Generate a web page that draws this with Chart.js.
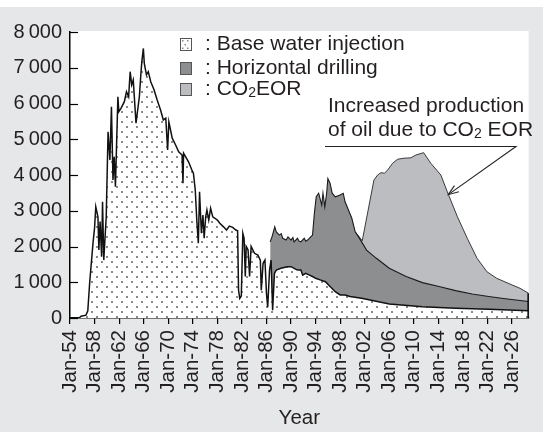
<!DOCTYPE html>
<html>
<head>
<meta charset="utf-8">
<script src="https://cdn.jsdelivr.net/npm/chart.js@4.4.0/dist/chart.umd.min.js"></script>
<style>
  html, body { margin: 0; padding: 0; background: #e6e7e8; }
  #wrap { width: 543px; height: 432px; }
</style>
</head>
<body>
<div id="wrap"><canvas id="chart" width="543" height="432"></canvas></div>
<script>
// base water injection (top of dotted area)
const baseYears = [1954, 1955.5, 1955.8, 1956.6, 1956.9, 1957.2, 1957.75, 1958.0, 1958.2, 1958.55, 1958.7, 1958.9, 1959.15, 1959.3, 1959.5, 1959.9,
  1960.2, 1960.5, 1960.75, 1961.0, 1961.2, 1961.4, 1961.8, 1961.95, 1962.3, 1962.85, 1963.2, 1963.55, 1963.8, 1964.05, 1964.3, 1964.75, 1964.95,
  1965.3, 1965.55, 1965.7, 1965.95, 1966.1, 1966.45, 1966.75, 1967.15, 1967.7, 1968.2, 1968.75, 1969.2, 1969.6, 1969.9, 1970.1, 1970.65,
  1971.2, 1971.7, 1972.25, 1972.4, 1972.5, 1973.3, 1973.85, 1974.1, 1974.4, 1974.65, 1974.9, 1975.1, 1975.4, 1975.65, 1975.85, 1976.1,
  1976.3, 1976.6, 1976.9, 1977.25, 1977.6, 1978.0, 1978.4, 1979.0, 1979.5, 1979.95, 1980.5, 1981.0, 1981.3, 1981.45, 1981.65, 1981.9,
  1982.15, 1982.35, 1982.55, 1982.7, 1983.0, 1983.25, 1983.5, 1984.05, 1984.6, 1985.0, 1985.15, 1985.45, 1985.75, 1986.0, 1986.2, 1986.5,
  1986.75, 1987.0, 1987.3, 1987.6, 1988.35, 1989.4, 1990.0, 1990.5, 1991.05, 1991.6, 1991.9, 1992.4, 1993.0, 1993.5, 1994.0, 1994.85,
  1995.6, 1996.4, 1997.2, 1998.0, 1998.8, 1999.6, 2001.5, 2006, 2011.4, 2016.8, 2022.2, 2028.7];
const baseValues = [0, 0, 50, 80, 200, 980, 2100, 2520, 3110, 2830, 1900, 2700, 1715, 3250, 1620, 2830,
  5210, 4420, 5910, 3860, 4510, 3670, 6190, 5770, 5865, 6050, 6330, 6190, 6890, 6520, 6660, 5450, 5720,
  6190, 6840, 7170, 7540, 7120, 6800, 6890, 6610, 6380, 6100, 5820, 5540, 5590, 4700, 5490, 5030,
  4840, 4650, 4560, 3770, 4610, 4370, 4140, 4050, 3580, 2740, 2090, 3530, 2370, 2880, 2230, 2830,
  3020, 2740, 3070, 2830, 2790, 2740, 2650, 2550, 2460, 2570, 2535, 2460, 2440, 780, 550, 615,
  2370, 2230, 1160, 2000, 1900, 1160, 2000, 1810, 1760, 1620, 780, 1530, 1620, 690, 300, 1340,
  1620, 220, 1250, 1340, 1390, 1435, 1435, 1390, 1340, 1340, 1200, 1250, 1200, 1160, 1110, 1060,
  1015, 875, 735, 645, 645, 600, 550, 390, 315, 270, 245, 205];

// horizontal drilling (top of dark area, cumulative)
const horizYears = [1986.6, 1986.9, 1987.35, 1987.6, 1988.1, 1988.4, 1988.65, 1989.2, 1989.5, 1990.0, 1990.3, 1990.5, 1991.05, 1991.3,
  1991.6, 1992.15, 1992.4, 1992.7, 1993.2, 1993.5, 1993.8, 1994.1, 1994.5, 1995.0, 1995.2, 1995.5, 1995.8, 1996.0, 1996.35, 1996.7,
  1997.2, 1998.0, 1998.5, 1998.8, 1999.35, 1999.9, 2000.45, 2001.0, 2002.3, 2003.9, 2006, 2008.75, 2011.4, 2014.1, 2016.8, 2019.5,
  2022.2, 2024.9, 2028.7];
const horizValues = [2130, 2270, 2550, 2410, 2320, 2360, 2230, 2180, 2270, 2180, 2250, 2130, 2230, 2150,
  2130, 2230, 2150, 2180, 2270, 2320, 2930, 3390, 3490, 3160, 3490, 3110, 3490, 3900, 3770, 3490,
  3390, 3440, 3490, 3250, 3020, 2790, 2410, 2270, 1900, 1670, 1390, 1160, 990, 880, 765, 670,
  600, 540, 460];

// CO2 EOR (top of light area, cumulative)
const co2Years = [2000.45, 2001.6, 2003.5, 2004.1, 2004.65, 2005.2, 2005.75, 2006.55, 2007.35, 2008.4, 2009.5, 2010.35, 2011.6,
  2012.75, 2014.4, 2015.45, 2017.1, 2018.7, 2020.3, 2021.9, 2023.5, 2025.65, 2027.3, 2028.7];
const co2Values = [2410, 2160, 3860, 4000, 4065, 4050, 4140, 4330, 4440, 4470, 4480, 4560, 4625,
  4330, 4000, 3530, 2830, 2230, 1670, 1295, 1110, 950, 830, 690];

const xTickYears = [1954, 1958, 1962, 1966, 1970, 1974, 1978, 1982, 1986, 1990, 1994, 1998, 2002, 2006, 2010, 2014, 2018, 2022, 2026];
const xTickLabels = ['Jan-54', 'Jan-58', 'Jan-62', 'Jan-66', 'Jan-70', 'Jan-74', 'Jan-78', 'Jan-82', 'Jan-86', 'Jan-90',
  'Jan-94', 'Jan-98', 'Jan-02', 'Jan-06', 'Jan-10', 'Jan-14', 'Jan-18', 'Jan-22', 'Jan-26'];
const yTickLabels = ['0', '1\u2009000', '2\u2009000', '3\u2009000', '4\u2009000', '5\u2009000', '6\u2009000', '7\u2009000', '8\u2009000'];

const FONT = "'Liberation Sans', Arial, sans-serif";
const TXT = '#231f20';
const DARK = '#8d8e90';
const LIGHT = '#bcbdc0';

function pts(xs, ys) {
  return xs.map((x, i) => ({ x: x, y: ys[i] }));
}

function dotPattern() {
  const c = document.createElement('canvas');
  c.width = 10; c.height = 10;
  const g = c.getContext('2d');
  g.fillStyle = '#fff';
  g.fillRect(0, 0, 10, 10);
  g.fillStyle = '#8a8a8a';
  g.fillRect(1, 1, 2, 2);
  g.fillRect(6, 6, 2, 2);
  return g.createPattern(c, 'repeat');
}
const dots = dotPattern();

// text with subscript "2" after "CO"
function subText(ctx, parts, x, y, size) {
  let cx = x;
  parts.forEach(p => {
    if (p.sub) {
      ctx.font = Math.round(size * 0.68) + 'px ' + FONT;
      ctx.fillText(p.t, cx, y + size * 0.22);
    } else {
      ctx.font = size + 'px ' + FONT;
      ctx.fillText(p.t, cx, y);
    }
    cx += ctx.measureText(p.t).width;
  });
}

const decor = {
  id: 'decor',
  beforeDraw(chart) {
    const ctx = chart.ctx, a = chart.chartArea;
    ctx.save();
    ctx.fillStyle = '#e6e7e8';
    ctx.fillRect(0, 0, chart.width, chart.height);
    ctx.fillStyle = '#fff';
    ctx.fillRect(0, 0, chart.width, 7);
    ctx.fillRect(a.left, a.top - 1, a.right - a.left, a.bottom - a.top + 1);
    ctx.restore();
  },
  afterDraw(chart) {
    const ctx = chart.ctx, a = chart.chartArea;
    const xs = chart.scales.x, ys = chart.scales.y;
    ctx.save();
    // inward y ticks
    ctx.strokeStyle = '#000';
    ctx.lineWidth = 1.2;
    ys.ticks.forEach(t => {
      const py = Math.round(ys.getPixelForValue(t.value)) + 0.5;
      ctx.beginPath();
      ctx.moveTo(a.left, py);
      ctx.lineTo(a.left + 8, py);
      ctx.stroke();
    });
    // closing edge at the right end
    const xe = xs.getPixelForValue(co2Years[co2Years.length - 1]) - 0.5;
    ctx.lineWidth = 1.5;
    ctx.beginPath();
    ctx.moveTo(xe, ys.getPixelForValue(0));
    ctx.lineTo(xe, ys.getPixelForValue(co2Values[co2Values.length - 1]));
    ctx.stroke();

    // legend
    const items = [
      { fill: '#fff', dotted: true, parts: [{ t: ': Base water injection' }] },
      { fill: DARK, parts: [{ t: ': Horizontal drilling' }] },
      { fill: LIGHT, parts: [{ t: ': CO' }, { t: '2', sub: true }, { t: 'EOR' }] }
    ];
    const rowY = [44, 68, 89];
    ctx.textBaseline = 'middle';
    items.forEach((it, i) => {
      const sx = 180, sy = rowY[i] - 6;
      ctx.fillStyle = it.fill;
      ctx.fillRect(sx, sy, 12, 13);
      if (it.dotted) {
        ctx.fillStyle = '#8a8a8a';
        [[2, 2], [7, 2], [4.5, 6], [2, 9.5], [7, 9.5]].forEach(d => ctx.fillRect(sx + d[0], sy + d[1], 1.5, 1.5));
      }
      ctx.strokeStyle = '#555';
      ctx.lineWidth = 1;
      ctx.strokeRect(sx + 0.5, sy + 0.5, 11, 12);
      ctx.fillStyle = TXT;
      subText(ctx, it.parts, 205, rowY[i], 21);
    });

    // annotation
    subText(ctx, [{ t: 'Increased production' }], 328, 106, 21);
    subText(ctx, [{ t: 'of oil due to CO' }, { t: '2', sub: true }, { t: ' EOR' }], 328, 130, 21);
    const lx0 = 325, lx1 = 516, ly = 146.5;
    const tipX = xs.getPixelForValue(2015.6), tipY = ys.getPixelForValue(3450);
    ctx.strokeStyle = '#222';
    ctx.lineWidth = 1.1;
    ctx.beginPath();
    ctx.moveTo(lx0, ly);
    ctx.lineTo(lx1, ly);
    ctx.lineTo(tipX, tipY);
    ctx.stroke();
    const ang = Math.atan2(tipY - ly, tipX - lx1);
    ctx.beginPath();
    ctx.moveTo(tipX - 11 * Math.cos(ang - 0.35), tipY - 11 * Math.sin(ang - 0.35));
    ctx.lineTo(tipX, tipY);
    ctx.lineTo(tipX - 11 * Math.cos(ang + 0.35), tipY - 11 * Math.sin(ang + 0.35));
    ctx.stroke();
    ctx.restore();
  }
};

new Chart(document.getElementById('chart'), {
  type: 'line',
  data: {
    datasets: [{
      label: 'Base water injection',
      data: pts(baseYears, baseValues),
      borderColor: '#111',
      borderWidth: 1.5,
      backgroundColor: dots,
      fill: 'origin',
      pointRadius: 0,
      tension: 0
    }, {
      label: 'Horizontal drilling',
      data: pts(horizYears, horizValues),
      borderColor: '#1a1a1a',
      borderWidth: 1.1,
      backgroundColor: DARK,
      fill: '-1',
      pointRadius: 0,
      tension: 0
    }, {
      label: 'CO2 EOR',
      data: pts(co2Years, co2Values),
      borderColor: '#3a3a3a',
      borderWidth: 1,
      backgroundColor: LIGHT,
      fill: '-1',
      pointRadius: 0,
      tension: 0
    }]
  },
  options: {
    responsive: false,
    animation: false,
    layout: { padding: { top: 32, right: 9, left: 0, bottom: 0 } },
    plugins: {
      legend: { display: false },
      tooltip: { enabled: false }
    },
    scales: {
      x: {
        type: 'linear',
        min: 1954,
        max: 2028.7,
        afterFit: s => { s.height = 114; },
        afterBuildTicks: s => { s.ticks = xTickYears.map(v => ({ value: v })); },
        border: { color: '#000', width: 1.5 },
        grid: { drawOnChartArea: false, drawTicks: true, tickLength: 6, color: '#000', lineWidth: 1.2 },
        ticks: {
          autoSkip: false,
          maxRotation: 90,
          minRotation: 90,
          padding: 6,
          color: TXT,
          font: { family: FONT, size: 20.5 },
          callback: (v, i) => xTickLabels[i]
        },
        title: {
          display: true,
          text: 'Year',
          color: TXT,
          font: { family: FONT, size: 20.5 },
          padding: { top: 0, bottom: 1 }
        }
      },
      y: {
        min: 0,
        max: 8000,
        afterFit: s => { s.width = 70; },
        border: { color: '#000', width: 1.5 },
        grid: { display: true, drawOnChartArea: false, drawTicks: false },
        ticks: {
          stepSize: 1000,
          padding: 8,
          color: TXT,
          font: { family: FONT, size: 20 },
          callback: (v) => yTickLabels[v / 1000]
        }
      }
    }
  },
  plugins: [decor]
});
</script>
</body>
</html>
